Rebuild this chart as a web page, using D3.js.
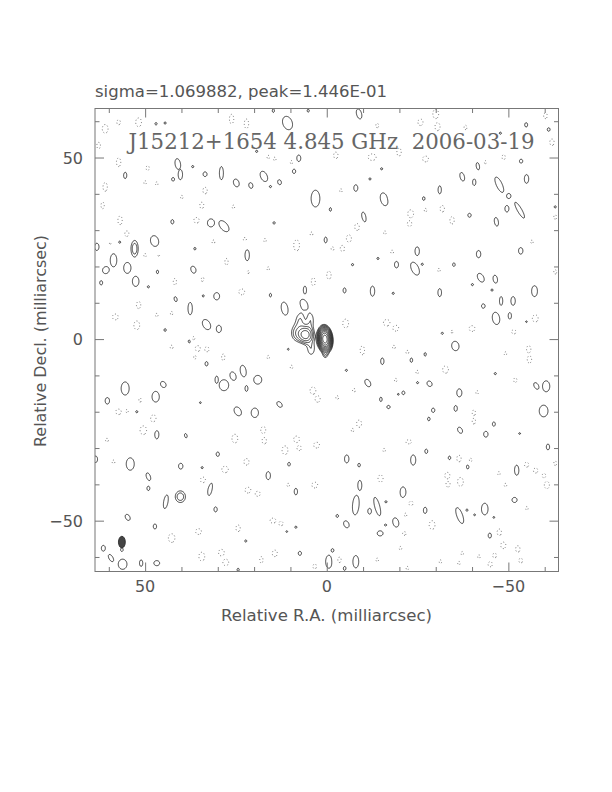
<!DOCTYPE html>
<html><head><meta charset="utf-8">
<script src="https://cdn.jsdelivr.net/npm/d3@7"></script>
<style>body{margin:0;background:#fff}</style>
</head><body>
<svg id="chart" width="612" height="792"></svg>
<script>
// ---------- DATA (relative RA / Dec in milliarcsec) ----------
const titleText = "sigma=1.069882, peak=1.446E-01";
const mapLabel = "J15212+1654 4.845 GHz  2006-03-19";
const xLabel = "Relative R.A. (milliarcsec)";
const yLabel = "Relative Decl. (milliarcsec)";
const xTickValues = [-60,-50,-40,-30,-20,-10,0,10,20,30,40,50,60];
const yTickValues = [-60,-50,-40,-30,-20,-10,0,10,20,30,40,50,60];
const majorTicks = [-50, 0, 50];
const tickLabels = ["\u221250", "0", "50"];
// contour levels in units of the lowest contour
const posLevels = [1, 1.414, 2, 2.83, 4, 5.66, 8, 11.3, 16, 22.6, 32];
const negLevels = [1];
// source model components: [ra, dec, amplitude, sigmaX, sigmaY, angleDeg]
const sourceComponents = [
  [0.5, 0.0, 42, 0.82, 1.48, -5],
  [5.85, 1.2, 5.0, 1.3, 1.4, 0],
  [7.3, 5.3, 1.35, 1.1, 2.0, 0],
  [4.4, 5.2, 1.3, 0.9, 1.9, 0],
  [8.6, 1.6, 1.35, 1.2, 1.8, 0],
  [4.3, -2.7, 1.35, 1.1, 1.9, 0],
  [0.4, -4.3, 1.3, 0.6, 0.9, 0]
];
// positive noise islands (single contour): [ra, dec, rx, ry, angleDeg]
const posIslands = [
  [10.8,59.5,1.3,1.9,-20],[7.7,49.8,0.55,0.9,0],[9.0,46.2,0.45,0.6,0],[41.0,48.2,0.75,1.5,-10],[40.3,45.3,0.6,1.4,0],
  [42.3,44.0,0.4,0.5,0],[36.9,47.5,0.3,0.3,0],[33.5,45.4,0.55,0.65,0],[29.0,45.7,0.55,1.8,0],[24.9,43.0,0.75,1.1,-20],
  [20.9,42.3,0.55,0.8,-15],[17.3,44.8,0.9,1.5,-25],[13.0,43.2,0.5,0.7,-15],[15.5,42.0,0.3,0.3,0],[55.5,45.1,0.45,0.9,0],
  [3.1,38.7,1.2,2.3,0],[42.5,32.3,0.4,0.6,0],[31.9,32.0,1.0,1.1,0],[28.3,31.1,1.0,1.8,-40],[14.5,32.0,0.3,0.35,0],
  [47.4,27.0,1.1,1.5,-15],[57.0,26.7,0.3,0.3,0],[58.7,21.7,0.9,1.8,0],[60.8,19.0,0.9,1.0,30],[63.3,25.4,0.6,1.0,0],
  [54.9,19.6,1.0,1.5,0],[52.6,15.9,0.9,1.4,0],[62.1,15.5,0.4,0.6,0],[46.6,18.5,0.3,0.5,0],[36.5,18.9,0.8,1.3,-30],
  [21.9,23.1,0.6,1.5,0],[36.3,24.9,0.3,0.35,0],[30.3,11.8,0.8,1.0,0],[41.6,11.0,0.4,0.7,-15],[34.0,11.9,0.3,0.3,0],
  [37.6,8.4,0.6,1.7,0],[15.5,12.1,0.3,0.5,0],[11.6,8.4,0.9,1.8,-10],[6.0,13.5,0.45,1.1,0],[6.3,9.8,0.8,1.2,-30],
  [33.1,4.0,1.0,1.5,-30],[29.7,2.8,0.7,1.0,0],[44.5,2.5,0.3,0.4,0],[49.1,14.4,0.3,0.3,0],[0.3,27.3,0.4,0.8,0],
  [47.0,59.3,0.3,0.35,0],[44.5,59.5,0.3,0.3,0],[14.7,62.9,0.3,0.5,0],[5.1,62.9,0.3,0.4,0],[19.3,51.7,0.3,0.3,0],
  [-4.9,13.4,0.4,0.7,0],[-5.4,-8.6,0.3,0.3,0],
  [-8.9,62.0,0.7,1.4,-15],[-54.9,59.0,0.4,0.6,0],[-61.1,57.7,0.4,0.5,0],[-47.8,56.7,0.3,0.3,0],[-53.5,49.0,0.45,0.55,0],
  [-41.6,47.6,0.45,1.0,-10],[-37.3,44.7,0.6,1.2,-15],[-40.6,43.2,0.45,0.9,0],[-47.5,42.5,0.8,2.3,-25],[-50.1,39.4,0.6,0.7,0],
  [-55.0,44.1,0.6,1.2,0],[-49.6,35.9,0.55,0.9,0],[-53.1,35.5,0.6,2.5,-30],[-46.7,32.3,0.55,1.2,-10],[-39.3,34.1,0.45,0.55,0],
  [-31.1,41.1,0.45,1.1,0],[-26.7,38.7,0.35,0.5,0],[-15.8,38.5,1.0,1.8,-15],[-8.0,41.6,0.55,0.9,0],[-11.9,44.1,0.3,0.3,0],
  [-15.1,46.9,0.3,0.3,0],[-1.0,35.7,0.3,0.5,0],[-10.2,33.5,0.6,1.5,-10],[-4.1,23.3,0.3,0.3,0],[-7.1,20.5,0.3,0.3,0],
  [-14.1,22.2,0.3,0.3,0],[-24.9,24.2,0.6,1.2,0],[-19.2,20.5,0.55,0.9,0],[-24.3,19.4,1.0,1.9,-25],[-26.3,20.6,0.3,0.3,0],
  [-35.0,20.5,0.35,0.5,0],[-41.8,23.4,0.6,1.0,0],[-53.4,24.3,0.6,0.9,0],[-42.4,16.9,0.8,1.3,-30],[-46.4,16.5,0.6,1.1,-10],
  [-40.1,15.0,0.3,0.3,0],[-45.5,13.5,0.3,0.3,0],[-48.0,10.5,0.45,1.2,0],[-51.3,10.5,0.6,1.2,0],[-57.2,13.2,0.8,1.5,0],
  [-43.1,9.1,0.5,0.6,0],[-46.6,5.7,1.0,1.7,-10],[-50.4,6.4,0.45,0.9,0],[-55.0,4.8,0.3,0.3,0],[-12.6,13.2,0.6,1.4,0],
  [-18.3,12.6,0.3,0.3,0],[-31.1,12.8,0.5,1.1,0],[-31.8,1.6,0.3,0.3,0],[-62.9,36.4,0.3,0.3,0],
  [37.8,-0.6,0.35,0.5,0],[33.1,-6.8,0.4,0.6,0],[23.0,-8.8,0.8,1.6,-10],[25.8,-10.2,0.8,1.2,-20],[28.3,-12.7,1.3,1.5,0],
  [30.3,-11.2,0.45,1.0,0],[19.0,-11.2,1.1,1.2,0],[22.1,-13.6,0.4,0.8,0],[55.5,-13.6,1.1,1.8,0],[45.0,-12.5,0.7,0.9,-35],
  [47.1,-15.9,1.0,1.5,0],[60.4,-17.0,0.6,0.9,0],[52.3,-20.0,0.3,0.3,0],[24.5,-19.9,0.9,1.3,-30],[19.8,-20.3,1.0,1.3,0],
  [13.0,-18.0,0.6,0.9,-40],[46.8,-26.2,0.6,1.3,0],[38.8,-26.6,0.35,0.6,-15],[30.0,-31.7,0.45,0.6,0],[54.1,-34.4,1.1,1.7,0],
  [63.6,-33.1,0.5,0.9,0],[40.2,-35.0,0.6,0.8,0],[34.3,-35.4,0.3,0.3,0],[49.1,-37.9,0.55,1.1,-20],[49.1,-41.1,0.4,0.6,0],
  [16.1,-37.6,0.6,1.1,0],[10.4,-34.4,0.4,0.6,0],[32.1,-41.1,0.6,2.0,10],[8.5,-42.0,0.45,0.9,0],[44.3,-44.8,0.6,1.9,10],
  [54.8,-49.1,0.6,0.9,-30],[47.3,-51.6,0.45,0.7,0],[30.6,-46.9,0.45,0.7,0],[56.4,-58.0,0.35,0.5,0],[61.5,-57.6,0.55,0.8,0],
  [59.4,-60.3,0.55,1.1,-30],[56.2,-62.0,1.2,1.4,0],[51.1,-61.7,0.45,0.9,0],[46.8,-61.7,0.8,0.7,0],[7.4,-59.0,0.45,0.55,0],
  [8.5,-51.8,0.3,0.3,0],[22.3,-55.6,0.3,0.3,0],[11.0,-53.0,0.25,0.25,0],[10.6,-2.8,0.25,0.25,0],[34.8,-17.5,0.25,0.25,0],
  [24.4,-63.5,0.3,0.4,0],
  [-35.4,-1.9,1.0,1.3,-10],[-15.3,-6.1,0.45,0.9,0],[-23.3,-5.8,0.35,0.6,0],[-27.1,-4.2,0.3,0.5,0],[-11.3,-12.1,0.7,1.1,-30],
  [-25.0,-12.0,0.3,0.3,0],[-28.3,-12.3,0.65,0.8,-35],[-21.1,-14.8,0.4,0.5,0],[-19.7,-15.2,0.25,0.25,0],[-14.9,-16.6,0.35,0.6,0],
  [-36.5,-14.8,0.7,1.1,0],[-17.0,-18.7,0.45,0.45,0],[-29.3,-19.6,0.45,0.6,0],[-35.5,-19.1,0.45,0.8,0],[-28.1,-22.0,0.35,0.5,0],
  [-36.7,-25.1,0.6,0.9,-30],[-43.8,-26.2,0.6,0.8,0],[-46.0,-23.4,0.4,0.6,0],[-46.4,-9.5,0.3,0.3,0],[-57.7,-12.9,0.6,1.0,-30],
  [-60.4,-13.0,1.0,1.5,0],[-59.7,-19.8,1.2,1.6,0],[-53.1,-26.0,0.25,0.25,0],[-60.9,-29.7,0.45,0.8,0],[-27.4,-30.9,0.4,0.6,0],
  [-23.8,-33.3,0.7,1.4,0],[-33.8,-32.7,0.35,0.5,0],[-38.8,-35.2,0.35,0.6,0],[-52.3,-36.1,0.6,1.4,0],[-5.5,-33.0,0.6,1.1,0],
  [-8.9,-34.7,0.35,0.5,0],[-9.1,-40.3,0.55,1.4,0],[-21.0,-42.2,0.8,1.5,0],[-8.0,-45.7,0.9,2.7,5],[-13.9,-46.1,0.7,2.6,-15],
  [-16.3,-44.8,0.3,0.3,0],[-11.8,-47.4,0.5,0.8,0],[-2.9,-48.7,0.35,0.4,0],[-5.4,-51.0,0.7,1.0,-25],[-19.0,-50.5,0.8,1.3,-15],
  [-16.2,-51.2,0.3,0.3,0],[-14.7,-53.5,0.8,0.7,0],[-27.1,-47.2,0.5,0.9,0],[-36.6,-48.6,0.8,2.3,-20],[-38.6,-47.1,0.3,0.3,0],
  [-43.5,-46.8,0.9,1.6,0],[-40.7,-48.4,0.25,0.25,0],[-46.0,-49.1,0.25,0.25,0],[-44.9,-54.1,0.45,0.7,0],[-51.7,-44.3,0.7,0.7,0],
  [-1.6,-58.2,0.4,0.5,0],[-0.6,-61.3,0.9,1.8,0],[-8.0,-61.3,0.8,1.7,0],[-4.9,-63.1,0.4,0.6,0]
];
// brighter positive islands (two contours): [ra, dec, rx, ry, angleDeg]
const posDoubleIslands = [
  [52.9,24.9,1.0,2.3,0],[40.3,-43.4,1.4,1.6,0]
];
// negative islands (dotted contour): [ra, dec, rx, ry]
const negIslands = [
  [61.0,57.9,0.8,1.2],[57.3,59.7,0.5,0.7],[51.8,59.7,0.8,1.2],[62.8,53.3,0.5,0.9],[57.3,48.7,0.6,1.2],[49.3,47.1,0.45,0.65],
  [61.0,41.9,0.6,1.2],[61.7,36.8,0.45,0.9],[46.8,42.8,0.35,0.5],[50.0,43.1,0.35,0.5],[33.5,40.9,0.6,0.9],[34.4,36.8,0.55,0.9],
  [39.9,39.1,0.35,0.5],[35.8,32.7,0.8,0.8],[56.9,32.7,0.6,1.2],[55.0,29.0,0.6,0.8],[59.6,26.3,0.35,0.5],[50.0,23.1,0.4,0.5],
  [46.3,23.1,0.35,0.5],[31.2,26.8,0.4,0.5],[27.6,21.3,0.45,0.9],[34.4,16.7,0.8,1.2],[41.8,15.8,0.45,0.9],[22.5,27.5,0.55,0.55],
  [25.7,36.4,0.35,0.5],[17.0,27.2,0.35,0.5],[8.3,25.8,0.8,1.5],[3.7,15.8,0.55,1.1],[4.2,29.0,0.4,0.5],[23.4,13.0,0.8,0.8],
  [16.1,19.4,0.35,0.5],[21.6,18.5,0.35,0.5],[51.8,9.4,0.6,1.0],[58.2,6.1,0.8,0.8],[52.3,3.8,0.8,1.2],[42.7,7.1,0.35,0.5],
  [46.8,6.6,0.35,0.5],[36.7,0.2,0.4,0.5],[26.2,60.6,0.6,1.3],[22.1,59.3,0.6,1.3],[16.1,50.1,0.35,0.5],[9.7,48.7,0.35,0.5],
  [14.3,49.6,0.35,0.5],
  [-13.9,58.8,0.4,0.6],[-25.8,59.7,0.7,0.9],[-30.0,62.0,0.8,1.3],[-30.5,58.5,0.7,1.1],[-38.2,58.3,0.4,0.6],[-2.5,50.6,0.6,0.9],
  [-12.5,50.1,1.1,0.9],[-19.9,51.5,0.6,1.1],[-27.2,49.6,0.8,0.8],[-43.7,48.7,0.35,0.5],[-48.7,50.1,0.45,0.7],[-62.0,54.2,0.6,0.9],
  [-60.2,61.5,0.5,0.8],[-3.9,40.9,0.35,0.5],[-18.0,39.1,0.35,0.5],[-23.1,34.5,0.8,1.1],[-22.8,31.8,0.6,0.8],[-27.2,35.5,0.35,0.5],
  [-31.8,35.9,0.6,0.9],[-34.5,32.7,0.6,1.0],[-8.4,30.9,0.7,1.0],[-6.1,27.7,0.7,1.0],[-4.3,24.9,0.6,0.9],[-1.6,24.9,0.4,0.5],
  [-16.0,29.3,0.35,0.5],[-18.0,24.0,0.4,0.5],[-30.9,19.0,0.35,0.5],[-0.6,17.6,0.6,1.1],[-56.5,26.8,0.35,0.5],[-62.9,33.6,0.4,0.6],
  [-62.9,18.5,0.4,0.6],[-5.2,4.3,0.8,1.2],[-16.5,4.5,0.9,0.9],[-19.0,3.0,0.8,0.8],[-34.5,2.0,0.4,0.5],[-40.0,2.9,0.8,0.8],
  [-51.5,2.0,0.6,0.6],[-57.4,5.7,0.8,1.0],
  [42.7,-2.2,0.4,0.5],[35.5,-2.6,0.7,0.8],[33.0,-2.8,0.6,0.7],[36.3,-5.0,0.35,0.5],[28.5,-5.0,0.45,0.9],[16.1,-5.0,0.35,0.5],
  [9.7,-7.7,0.35,0.5],[3.8,-14.2,0.8,1.0],[2.5,-16.5,0.7,0.9],[51.4,-16.8,0.35,0.6],[57.3,-20.0,0.8,0.8],[55.0,-19.8,0.4,0.5],
  [47.7,-21.9,0.8,1.2],[50.5,-25.1,0.9,1.2],[60.5,-27.8,0.4,0.5],[58.7,-33.8,0.4,0.5],[17.5,-25.0,0.7,1.0],[17.2,-28.0,0.6,0.9],
  [25.3,-27.4,0.8,1.2],[11.5,-30.6,0.8,1.2],[8.3,-27.6,0.8,0.9],[7.6,-30.0,0.6,0.7],[2.8,-29.2,0.8,0.8],[22.1,-33.8,0.7,0.9],
  [28.0,-35.9,0.9,0.9],[34.0,-38.8,0.8,0.8],[21.7,-41.6,0.8,0.8],[19.0,-42.6,0.7,0.7],[3.3,-40.2,0.8,0.8],[10.6,-40.2,0.35,0.5],
  [14.8,-50.0,0.8,0.7],[12.6,-50.8,0.6,0.6],[24.4,-52.1,0.6,0.9],[35.3,-53.0,0.8,0.8],[42.7,-54.8,0.9,1.2],[34.4,-59.9,0.8,1.2],
  [29.0,-58.8,0.8,0.9],[27.8,-61.5,0.8,0.9],[18.0,-60.8,0.45,0.9],[14.3,-59.0,0.7,0.9],[3.3,-62.6,0.5,0.7],
  [-9.8,-3.1,0.6,1.2],[-18.5,-2.2,0.4,0.5],[-22.2,-3.6,0.4,0.5],[-55.6,-2.8,0.6,1.0],[-55.8,-5.6,0.6,1.0],[-49.2,-4.0,0.35,0.5],
  [-24.9,-9.1,0.35,0.5],[-32.7,-8.4,0.8,1.0],[-7.5,-14.1,0.4,0.5],[-2.9,-16.1,0.4,0.5],[-19.0,-11.3,0.35,0.5],[-51.9,-11.3,0.45,0.65],
  [-41.4,-14.7,0.35,0.5],[-40.5,-20.3,0.45,0.8],[-40.5,-22.6,0.45,0.8],[-8.9,-23.3,0.7,1.0],[-7.1,-25.1,0.35,0.5],[-22.6,-28.3,0.8,0.6],
  [-15.8,-30.6,0.35,0.5],[-36.4,-32.9,0.6,0.9],[-39.6,-33.3,0.4,0.5],[-33.2,-37.6,0.7,0.9],[-33.4,-40.0,0.6,0.8],[-36.8,-39.3,0.8,1.2],
  [-14.8,-38.4,0.7,1.0],[-47.4,-37.0,0.35,0.5],[-49.2,-40.2,0.35,0.5],[-55.0,-34.6,0.6,0.7],[-57.5,-36.2,0.6,0.7],[-59.8,-37.6,0.5,0.6],
  [-60.6,-40.2,0.7,1.0],[-62.9,-34.2,0.4,0.6],[-55.1,-46.6,0.35,0.5],[-23.1,-45.2,0.7,0.7],[-21.7,-48.4,0.35,0.5],[-29.0,-51.2,0.8,1.2],
  [-21.3,-53.5,0.6,0.6],[-20.3,-57.6,0.35,0.5],[-47.5,-53.2,0.6,0.9],[-48.6,-56.8,0.7,0.9],[-46.2,-59.6,0.5,0.7],[-52.6,-57.8,0.6,0.9],
  [-53.4,-61.0,0.5,0.7],[-37.3,-59.0,0.35,0.5],[-41.9,-59.9,0.35,0.5],[-36.4,-61.7,0.35,0.5],[-31.3,-61.3,0.35,0.5],[-22.2,-63.1,0.35,0.5],
  [-13.9,-60.8,0.35,0.5],[-3.4,-60.8,0.6,0.9],[-45.0,-62.0,0.6,0.7]
];
// restoring beam: [ra, dec, semi-minor, semi-major, angleDeg]
const beam = [56.4, -55.9, 0.95, 1.6, 0];

// ---------- LAYOUT ----------
const svg = d3.select("#chart");
const L = 95, R = 558.5, T = 108.5, B = 571.5;
const x = d3.scaleLinear().domain([63.8, -63.8]).range([L, R]);
const y = d3.scaleLinear().domain([-64.0, 63.5]).range([B, T]);

// ---------- GRID ----------
const step = 0.2, ra0 = 64.4, dec0 = 64.2;
const nx = Math.ceil(128.8 / step), ny = Math.ceil(128.8 / step);
const srcField = new Float64Array(nx * ny);
const posField = new Float64Array(nx * ny);
const negField = new Float64Array(nx * ny);
function gaussInto(field, mode, ra, dec, amp, sx, sy, angDeg) {
  const th = angDeg * Math.PI / 180, c = Math.cos(th), s = Math.sin(th);
  const Rr = 3.6 * Math.max(sx, sy);
  const i0 = Math.max(0, Math.floor((ra0 - ra - Rr) / step - 0.5));
  const i1 = Math.min(nx - 1, Math.ceil((ra0 - ra + Rr) / step - 0.5));
  const j0 = Math.max(0, Math.floor((dec0 - dec - Rr) / step - 0.5));
  const j1 = Math.min(ny - 1, Math.ceil((dec0 - dec + Rr) / step - 0.5));
  for (let j = j0; j <= j1; j++) {
    const dys = dec - (dec0 - (j + 0.5) * step);
    for (let i = i0; i <= i1; i++) {
      const dxs = ra - (ra0 - (i + 0.5) * step);
      const u = dxs * c + dys * s, v = -dxs * s + dys * c;
      const val = amp * Math.exp(-0.5 * (u * u / (sx * sx) + v * v / (sy * sy)));
      const k = j * nx + i;
      if (mode === "sum") field[k] += val;
      else if (mode === "max") { if (val > field[k]) field[k] = val; }
      else { if (val < field[k]) field[k] = val; }
    }
  }
}
sourceComponents.forEach(d => gaussInto(srcField, "sum", d[0], d[1], d[2], d[3], d[4], d[5]));
const k1 = Math.sqrt(2 * Math.log(1.3)), k2 = Math.sqrt(2 * Math.log(1.8));
posIslands.forEach(d => gaussInto(posField, "max", d[0], d[1], 1.3, d[2] / k1, d[3] / k1, d[4]));
posDoubleIslands.forEach(d => gaussInto(posField, "max", d[0], d[1], 1.8, d[2] / k2, d[3] / k2, d[4]));
negIslands.forEach(d => gaussInto(negField, "min", d[0], d[1], -1.3, d[2] / k1, d[3] / k1, 0));
const grid = srcField.map((v, k) => v + posField[k] + negField[k]);
const negGrid = grid.map(v => -v);

const proj = d3.geoTransform({
  point: function(gx, gy) { this.stream.point(x(ra0 - gx * step), y(dec0 - gy * step)); }
});
const path = d3.geoPath(proj);

svg.append("defs").append("clipPath").attr("id", "clip")
  .append("rect").attr("x", L).attr("y", T).attr("width", R - L).attr("height", B - T);
const plot = svg.append("g").attr("clip-path", "url(#clip)");

const negC = d3.contours().size([nx, ny]).thresholds(negLevels)(negGrid);
plot.append("g").selectAll("path").data(negC).join("path")
  .attr("d", path).attr("fill", "none").attr("stroke", "#666")
  .attr("stroke-width", 0.9).attr("stroke-dasharray", "1,2.2");

const posC = d3.contours().size([nx, ny]).thresholds(posLevels)(grid);
plot.append("g").selectAll("path").data(posC).join("path")
  .attr("d", path).attr("fill", "none").attr("stroke", "#222").attr("stroke-width", 0.85);

// beam
plot.append("ellipse")
  .attr("cx", x(beam[0])).attr("cy", y(beam[1]))
  .attr("rx", Math.abs(x(beam[2]) - x(0))).attr("ry", Math.abs(y(beam[3]) - y(0)))
  .attr("transform", `rotate(${beam[4]},${x(beam[0])},${y(beam[1])})`)
  .attr("fill", "#444").attr("stroke", "#222").attr("stroke-width", 0.8);

// ---------- FRAME & TICKS ----------
const minorX = xTickValues.filter(v => !majorTicks.includes(v));
const minorY = yTickValues.filter(v => !majorTicks.includes(v));
function axisG(axis, tx, ty) {
  const g = svg.append("g").attr("transform", `translate(${tx},${ty})`).call(axis);
  g.select(".domain").remove();
  g.selectAll("line").attr("stroke", "#777");
  g.selectAll("text").remove();
}
[[4.5, minorX, minorY], [9, majorTicks, majorTicks]].forEach(([len, xv, yv]) => {
  axisG(d3.axisBottom(x).tickValues(xv).tickSize(-len), 0, B);
  axisG(d3.axisTop(x).tickValues(xv).tickSize(-len), 0, T);
  axisG(d3.axisLeft(y).tickValues(yv).tickSize(-len), L, 0);
  axisG(d3.axisRight(y).tickValues(yv).tickSize(-len), R, 0);
});
svg.append("rect").attr("x", L).attr("y", T).attr("width", R - L).attr("height", B - T)
  .attr("fill", "none").attr("stroke", "#777").attr("stroke-width", 1);

// ---------- TEXT ----------
const font = "'DejaVu Sans', sans-serif";
svg.append("g").selectAll("text").data(majorTicks).join("text")
  .attr("x", d => x(d)).attr("y", 592).attr("text-anchor", "middle")
  .attr("font-family", font).attr("font-size", 16).attr("fill", "#555")
  .text((d, i) => tickLabels[i]);
svg.append("g").selectAll("text").data(majorTicks).join("text")
  .attr("x", 83).attr("y", d => y(d) + 6).attr("text-anchor", "end")
  .attr("font-family", font).attr("font-size", 16).attr("fill", "#555")
  .text((d, i) => tickLabels[i]);

svg.append("text").attr("x", 95).attr("y", 97)
  .attr("font-family", font).attr("font-size", 15.5).attr("fill", "#555")
  .attr("textLength", 292).attr("lengthAdjust", "spacingAndGlyphs").text(titleText);

svg.append("text").attr("x", 128.5).attr("y", 148.5).style("white-space", "pre")
  .attr("font-family", "'DejaVu Serif', serif").attr("font-size", 22).attr("fill", "#666")
  .attr("textLength", 406).attr("lengthAdjust", "spacingAndGlyphs").text(mapLabel);

svg.append("text").attr("x", 326.5).attr("y", 621).attr("text-anchor", "middle")
  .attr("font-family", font).attr("font-size", 15).attr("fill", "#555")
  .attr("textLength", 211).attr("lengthAdjust", "spacingAndGlyphs").text(xLabel);

svg.append("text").attr("transform", "translate(46,341) rotate(-90)").attr("text-anchor", "middle")
  .attr("font-family", font).attr("font-size", 15).attr("fill", "#555")
  .attr("textLength", 212).attr("lengthAdjust", "spacingAndGlyphs").text(yLabel);
</script>
</body></html>
